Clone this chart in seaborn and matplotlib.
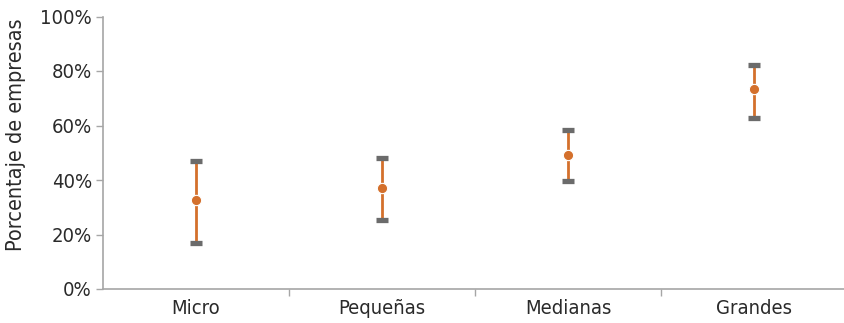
import matplotlib
matplotlib.use("Agg")
import matplotlib.pyplot as plt
import seaborn as sns
import pandas as pd
from matplotlib.ticker import PercentFormatter

categories = ["Micro", "Pequeñas", "Medianas", "Grandes"]
estimate = [32.5, 37.0, 49.3, 73.3]
lower = [16.8, 25.5, 39.7, 62.6]
upper = [47.0, 48.0, 58.4, 82.2]

df = pd.DataFrame({"cat": categories, "est": estimate, "lo": lower, "hi": upper})

sns.set_theme(style="white")
plt.rcParams["font.family"] = ["DejaVu Sans"]
plt.rcParams["font.stretch"] = "condensed"

fig = plt.figure(figsize=(8.44, 3.23), dpi=100)
ax = fig.add_axes([103 / 844, 1 - 289 / 323, 744 / 844, 272.5 / 323])

xpos = list(range(len(categories)))
err_lo = [e - l for e, l in zip(df["est"], df["lo"])]
err_hi = [h - e for e, h in zip(df["est"], df["hi"])]

ax.vlines(xpos, df["lo"], df["hi"], color="#d4702c", linewidth=2.0, zorder=2)
ax.errorbar(xpos, df["est"], yerr=[err_lo, err_hi], fmt="none", ecolor="#6b6b6b",
            elinewidth=0, capsize=4.5, capthick=3.8, zorder=3)
sns.scatterplot(x=xpos, y=df["est"], ax=ax, color="#d4702c", s=55,
                edgecolor="white", linewidth=0.8, zorder=4, legend=False)

ax.set_xlim(-0.5, 3.5)
ax.set_ylim(0, 100)
ax.set_xticks(xpos)
ax.set_xticklabels(categories)
ax.set_xticks([0.5, 1.5, 2.5], minor=True)
ax.set_yticks([0, 20, 40, 60, 80, 100])
ax.yaxis.set_major_formatter(PercentFormatter(decimals=0))
ax.set_xlabel("")
ax.set_ylabel("Porcentaje de empresas", fontsize=15.5, color="#2a2a2a")
ax.yaxis.set_label_coords(-0.103, 0.565)

for s in ["top", "right"]:
    ax.spines[s].set_visible(False)
for s in ["left", "bottom"]:
    ax.spines[s].set_color("#a6a6a6")
    ax.spines[s].set_linewidth(1.2)

ax.tick_params(axis="y", which="major", length=5, width=1, color="#a6a6a6",
               labelsize=14.5, labelcolor="#2a2a2a", pad=3, left=True)
ax.tick_params(axis="x", which="major", length=0, labelsize=14.5,
               labelcolor="#2a2a2a", pad=7)
ax.tick_params(axis="x", which="minor", length=5, width=1, color="#a6a6a6",
               bottom=True)

fig.savefig("out.png", dpi=100)
